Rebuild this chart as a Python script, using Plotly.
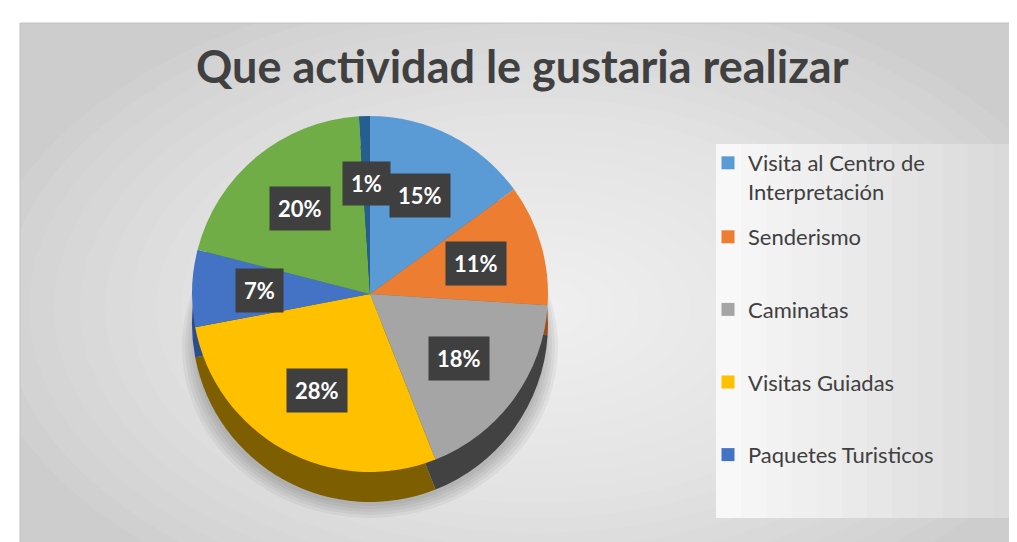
import math
import plotly.graph_objects as go

# ---------------- data ----------------
categories = ["Visita al Centro de Interpretación", "Senderismo", "Caminatas",
              "Visitas Guiadas", "Paquetes Turisticos", "Otra actividad", "Otros"]
values = [15, 11, 18, 28, 7, 20, 1]
legend_labels = ["Visita al Centro de<br>Interpretación", "Senderismo", "Caminatas",
                 "Visitas Guiadas", "Paquetes Turisticos"]
title_text = "Que actividad le gustaria realizar"

top_colors = ["#5b9bd5", "#ed7d31", "#a5a5a5", "#ffc000", "#4472c4", "#70ad47", "#255e91"]
side_colors = ["#2f6ea8", "#9c4f1a", "#424242", "#7d5e00", "#2b4d8c", "#46772b", "#163a5c"]

# ---------------- geometry (pixels) ----------------
W, H = 1017, 542
cx, cy, R = 362, 286, 178
depth = 30

def dom(cxp, cyp, r):
    return dict(x=[(cxp - r) / W, (cxp + r) / W],
                y=[1 - (cyp + r) / H, 1 - (cyp - r) / H])

fig = go.Figure()

# side (depth) pie
fig.add_trace(go.Pie(labels=categories, values=values, sort=False, direction="clockwise",
                     rotation=0, marker=dict(colors=side_colors, line=dict(width=0)),
                     textinfo="none", hoverinfo="skip", showlegend=False,
                     domain=dom(cx, cy + depth, R)))
# top pie
fig.add_trace(go.Pie(labels=categories, values=values, sort=False, direction="clockwise",
                     rotation=0, marker=dict(colors=top_colors, line=dict(width=0)),
                     textinfo="none", showlegend=False,
                     domain=dom(cx, cy, R)))

# legend entries: first in legend, others in legend2
for i, (lab, col) in enumerate(zip(legend_labels, top_colors)):
    fig.add_trace(go.Scatter(x=[None], y=[None], mode="markers", name=lab,
                             legendgroup=lab, legend="legend" if i == 0 else "legend2",
                             marker=dict(symbol="square", size=13, color=col)))

# data labels (boxes) computed from slice mid-angles
total = sum(values)
cum = 0
annotations = []
for v in values:
    mid = (cum + v / 2) / total * 2 * math.pi
    cum += v
    rf = 0.62
    px = cx + R * rf * math.sin(mid)
    py = cy - R * rf * math.cos(mid)
    annotations.append(dict(x=px / W, y=1 - py / H, xref="paper", yref="paper",
                            xanchor="center", yanchor="middle",
                            text=f"<b>{round(v / total * 100)}%</b>", showarrow=False,
                            font=dict(family="Lato", size=22, color="white"),
                            bgcolor="#3f3f3f", borderpad=8))

annotations.append(dict(x=514 / W, y=1 - 58 / H, xref="paper", yref="paper",
                        xanchor="center", yanchor="middle",
                        text=f"<b>{title_text}</b>", showarrow=False,
                        font=dict(family="Lato", size=45, color="#404040")))

# background shapes
shapes = [dict(type="rect", xref="paper", yref="paper", x0=12 / W, x1=1010 / W,
               y0=1 - 536 / H, y1=1 - 15 / H, fillcolor="#cdcdcd",
               line=dict(color="#c4c4c4", width=1), layer="below")]
n = 22
for i in range(n):
    f = 1 - i / n
    rx, ry = 560 * f, 330 * f
    shapes.append(dict(type="circle", xref="paper", yref="paper",
                       x0=(530 - rx) / W, x1=(530 + rx) / W,
                       y0=1 - (300 + ry) / H, y1=1 - (300 - ry) / H,
                       fillcolor="white", opacity=0.065, line=dict(width=0), layer="below"))
# white margins outside chart area (cover gradient overflow)
for (x0, x1, y0, y1) in [(0, 12, 0, H), (1010, W, 0, H), (0, W, 0, 15), (0, W, 536, H)]:
    shapes.append(dict(type="rect", xref="paper", yref="paper", x0=x0 / W, x1=x1 / W,
                       y0=1 - y1 / H, y1=1 - y0 / H, fillcolor="white",
                       line=dict(width=0), layer="below"))
shapes.append(dict(type="rect", xref="paper", yref="paper", x0=12 / W, x1=1010 / W,
                   y0=1 - 536 / H, y1=1 - 15 / H, fillcolor="rgba(0,0,0,0)",
                   line=dict(color="#c4c4c4", width=1), layer="below"))
# legend box with horizontal gradient strips
nstrip = 12
x_start, x_end = 708, 1010
for i in range(nstrip):
    t = i / (nstrip - 1)
    g = int(248 - t * 30)
    shapes.append(dict(type="rect", xref="paper", yref="paper",
                       x0=(x_start + (x_end - x_start) * i / nstrip) / W,
                       x1=(x_start + (x_end - x_start) * (i + 1) / nstrip + 1) / W,
                       y0=1 - 510 / H, y1=1 - 136 / H,
                       fillcolor=f"rgb({g},{g},{g})", line=dict(width=0), layer="below"))
# soft pie shadow (mostly below)
for i in range(5):
    s = 14 - i * 3
    shapes.append(dict(type="circle", xref="paper", yref="paper",
                       x0=(cx - R - s + 4) / W, x1=(cx + R + s - 4) / W,
                       y0=1 - (cy + depth + R + s + 2) / H, y1=1 - (cy + depth + 30 - R) / H,
                       fillcolor="black", opacity=0.045, line=dict(width=0), layer="below"))

legend_font = dict(family="Lato", size=22, color="#404040")
fig.update_layout(
    width=W, height=H,
    margin=dict(l=0, r=0, t=0, b=0),
    paper_bgcolor="white", plot_bgcolor="rgba(0,0,0,0)",
    xaxis=dict(visible=False), yaxis=dict(visible=False),
    shapes=shapes, annotations=annotations,
    legend=dict(x=700 / W, y=1 - 134 / H, xanchor="left", yanchor="top",
                font=legend_font, bgcolor="rgba(0,0,0,0)", valign="top",
                itemclick=False, itemdoubleclick=False),
    legend2=dict(x=700 / W, y=1 - 208 / H, xanchor="left", yanchor="top",
                 font=legend_font, bgcolor="rgba(0,0,0,0)", tracegroupgap=41,
                 valign="top", itemclick=False, itemdoubleclick=False),
    showlegend=True,
)

fig.write_html("out.html")
